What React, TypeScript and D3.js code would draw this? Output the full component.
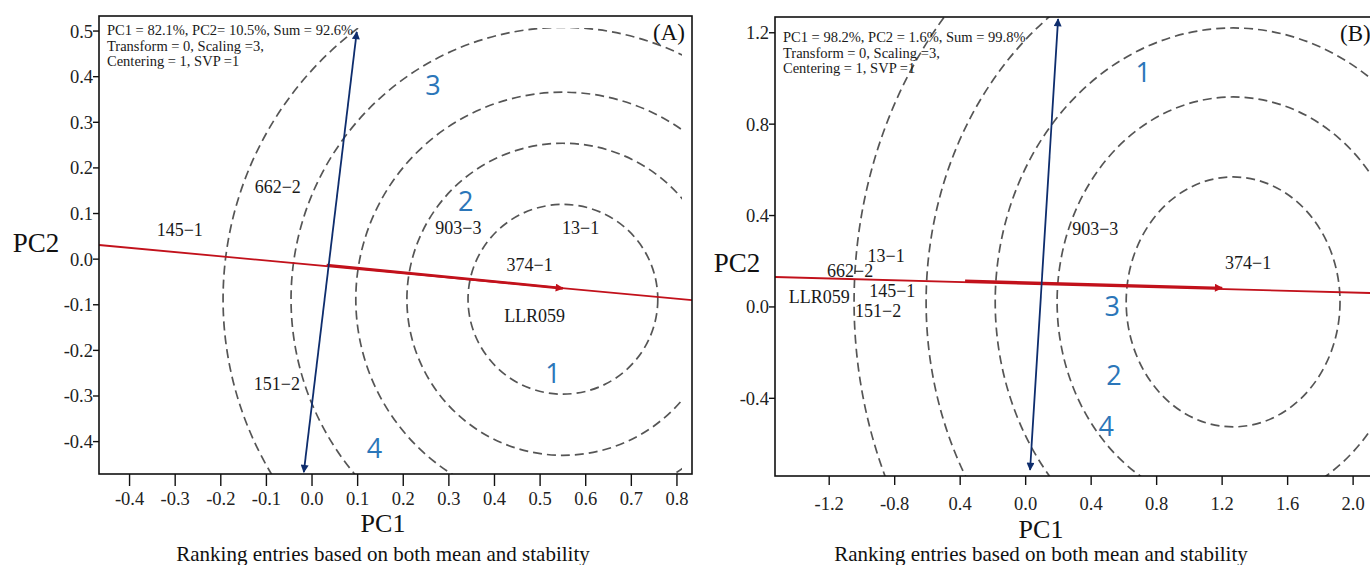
import * as d3 from "d3";
import React from "react";

// ---- panel A data ----
const ticksXA = [-0.4, -0.3, -0.2, -0.1, 0.0, 0.1, 0.2, 0.3, 0.4, 0.5, 0.6, 0.7, 0.8];
const tickLabelsXA = ["-0.4", "-0.3", "-0.2", "-0.1", "0.0", "0.1", "0.2", "0.3", "0.4", "0.5", "0.6", "0.7", "0.8"];
const ticksYA = [0.5, 0.4, 0.3, 0.2, 0.1, 0.0, -0.1, -0.2, -0.3, -0.4];
const tickLabelsYA = ["0.5", "0.4", "0.3", "0.2", "0.1", "0.0", "-0.1", "-0.2", "-0.3", "-0.4"];
const ringCenterA = [0.55, -0.088];
const ringRxA = [0.208, 0.342, 0.454, 0.596, 0.745];
const ringRyA = [0.208, 0.342, 0.454, 0.596, 0.745];
const entriesA = ["145−1", "662−2", "903−3", "13−1", "374−1", "LLR059", "151−2"];
const entryXA = [-0.29, -0.075, 0.321, 0.589, 0.477, 0.488, -0.077];
const entryYA = [0.064, 0.158, 0.068, 0.068, -0.013, -0.123, -0.272];
const ranksA = ["3", "2", "1", "4"];
const rankXA = [0.265, 0.337, 0.528, 0.137];
const rankYA = [0.382, 0.127, -0.25, -0.414];
const aecLineA = [[-0.467, 0.031], [0.833, -0.09]];
const aecArrowA = [[0.032, -0.013], [0.55, -0.064]];
const ordinateA = [[0.098, 0.498], [-0.018, -0.467]];
const infoA = ["PC1 = 82.1%, PC2= 10.5%, Sum = 92.6%", "Transform = 0, Scaling =3,", "Centering = 1, SVP =1"];

// ---- panel B data ----
const ticksXB = [-1.2, -0.8, -0.4, 0.0, 0.4, 0.8, 1.2, 1.6, 2.0];
const tickLabelsXB = ["-1.2", "-0.8", "0.4", "0.0", "0.4", "0.8", "1.2", "1.6", "2.0"];
const ticksYB = [1.2, 0.8, 0.4, 0.0, -0.4];
const tickLabelsYB = ["1.2", "0.8", "0.4", "0.0", "-0.4"];
const ringCenterB = [1.267, 0.022];
const ringRxB = [0.653, 1.075, 1.453, 1.875, 2.315];
const ringRyB = [0.547, 0.897, 1.199, 1.558, 1.926];
const entriesB = ["903−3", "374−1", "13−1", "662−2", "145−1", "LLR059", "151−2"];
const entryXB = [0.425, 1.359, -0.852, -1.072, -0.815, -1.261, -0.901];
const entryYB = [0.341, 0.193, 0.223, 0.158, 0.07, 0.044, -0.018];
const ranksB = ["1", "3", "2", "4"];
const rankXB = [0.718, 0.528, 0.54, 0.492];
const rankYB = [1.028, 0.004, -0.298, -0.521];
const aecLineB = [[-1.531, 0.131], [2.152, 0.06]];
const aecArrowB = [[-0.37, 0.114], [1.2, 0.083]];
const ordinateB = [[0.198, 1.26], [0.027, -0.713]];
const infoB = ["PC1 = 98.2%, PC2 = 1.6%, Sum = 99.8%", "Transform = 0, Scaling =3,", "Centering = 1, SVP =1"];

const SERIF = "'Liberation Serif', 'Times New Roman', serif";
const RED = "#c2111b";
const NAVY = "#0e2d6d";
const RANK_BLUE = "#2b76b9";

type PanelProps = {
  id: string;
  letter: string;
  xDomain: number[];
  yDomain: number[];
  box: { left: number; right: number; top: number; bottom: number };
  ticksX: number[];
  tickLabelsX: string[];
  ticksY: number[];
  tickLabelsY: string[];
  xTickLen: number;
  xLabelY: number;
  ringCenter: number[];
  ringRx: number[];
  ringRy: number[];
  ringClipRight: number;
  ringClipTop: number;
  entries: string[];
  entryX: number[];
  entryY: number[];
  ranks: string[];
  rankX: number[];
  rankY: number[];
  aecLine: number[][];
  aecArrow: number[][];
  ordinate: number[][];
  info: string[];
  infoX: number;
  infoY: number;
  pc2Pos: number[];
  pc1Pos: number[];
  subY: number;
  letterX: number;
};

const Panel = (p: PanelProps) => {
  const x = d3.scaleLinear().domain(p.xDomain).range([p.box.left, p.box.right]);
  const y = d3.scaleLinear().domain(p.yDomain).range([p.box.bottom, p.box.top]);
  const line = d3.line<number[]>().x((d) => x(d[0])).y((d) => y(d[1]));
  const cx = x(p.ringCenter[0]);
  const cy = y(p.ringCenter[1]);

  return (
    <g>
      <defs>
        <clipPath id={`clip-${p.id}`}>
          <rect x={p.box.left} y={p.ringClipTop} width={p.ringClipRight - p.box.left} height={p.box.bottom - p.ringClipTop} />
        </clipPath>
        <marker id={`red-${p.id}`} viewBox="0 0 10 10" refX="9" refY="5" markerWidth="10" markerHeight="8" markerUnits="userSpaceOnUse" orient="auto">
          <path d="M0,0 L10,5 L0,10 z" fill={RED} />
        </marker>
        <marker id={`navy-${p.id}`} viewBox="0 0 10 10" refX="9" refY="5" markerWidth="11" markerHeight="8" markerUnits="userSpaceOnUse" orient="auto-start-reverse">
          <path d="M0,0 L10,5 L0,10 z" fill={NAVY} />
        </marker>
      </defs>

      {/* concentric rings */}
      <g clipPath={`url(#clip-${p.id})`}>
        {p.ringRx.map((r, i) => (
          <ellipse
            key={i}
            cx={cx}
            cy={cy}
            rx={x(p.ringCenter[0] + r) - cx}
            ry={cy - y(p.ringCenter[1] + p.ringRy[i])}
            fill="none"
            stroke="#555"
            strokeWidth={1.7}
            strokeDasharray="9 5"
          />
        ))}
      </g>

      {/* average environment axis */}
      <path d={line(p.aecLine) || ""} stroke={RED} strokeWidth={1.8} fill="none" />
      <path d={line(p.aecArrow) || ""} stroke={RED} strokeWidth={2.6} fill="none" markerEnd={`url(#red-${p.id})`} />

      {/* ordinate */}
      <path d={line(p.ordinate) || ""} stroke={NAVY} strokeWidth={1.8} fill="none" markerStart={`url(#navy-${p.id})`} markerEnd={`url(#navy-${p.id})`} />

      {/* frame */}
      <rect x={p.box.left} y={p.box.top} width={p.box.right - p.box.left} height={p.box.bottom - p.box.top} fill="none" stroke="#111" strokeWidth={1.6} />

      {/* y ticks */}
      {p.ticksY.map((t, i) => (
        <g key={t}>
          <line x1={p.box.left - 6} x2={p.box.left} y1={y(t)} y2={y(t)} stroke="#111" strokeWidth={1.4} />
          <text x={p.box.left - 6} y={y(t)} dy="0.35em" textAnchor="end" fontFamily={SERIF} fontSize={18.5} fill="#222">
            {p.tickLabelsY[i]}
          </text>
        </g>
      ))}

      {/* x ticks */}
      {p.ticksX.map((t, i) => (
        <g key={t}>
          <line x1={x(t)} x2={x(t)} y1={p.box.bottom} y2={p.box.bottom + p.xTickLen} stroke="#111" strokeWidth={1.4} />
          <text x={x(t)} y={p.xLabelY} textAnchor="middle" fontFamily={SERIF} fontSize={18.5} fill="#222">
            {p.tickLabelsX[i]}
          </text>
        </g>
      ))}

      {/* entries */}
      {p.entries.map((e, i) => (
        <text key={e} x={x(p.entryX[i])} y={y(p.entryY[i])} dy="0.35em" textAnchor="middle" fontFamily={SERIF} fontSize={18} fill="#1a1a1a">
          {e}
        </text>
      ))}

      {/* rank numbers */}
      {p.ranks.map((r, i) => (
        <text key={r} x={x(p.rankX[i])} y={y(p.rankY[i])} dy="0.36em" textAnchor="middle" fontFamily="'Open Sans', sans-serif" fontSize={27} fill={RANK_BLUE}>
          {r}
        </text>
      ))}

      {/* info text */}
      {p.info.map((s, i) => (
        <text key={s} x={p.infoX} y={p.infoY + i * 15.5} fontFamily={SERIF} fontSize={14.5} fill="#1a1a1a">
          {s}
        </text>
      ))}

      <text x={p.letterX} y={p.box.top + 24} fontFamily={SERIF} fontSize={23} fill="#111">
        {p.letter}
      </text>

      <text x={p.pc2Pos[0]} y={p.pc2Pos[1]} textAnchor="middle" fontFamily={SERIF} fontSize={27} fill="#111">
        PC2
      </text>
      <text x={p.pc1Pos[0]} y={p.pc1Pos[1]} textAnchor="middle" fontFamily={SERIF} fontSize={26} fill="#111">
        PC1
      </text>
      <text x={p.pc1Pos[0]} y={p.subY} textAnchor="middle" fontFamily={SERIF} fontSize={21} fill="#111">
        Ranking entries based on both mean and stability
      </text>
    </g>
  );
};

export default function App() {
  return (
    <div style={{ position: "absolute", left: 0, top: 0 }}>
      <svg width={1370} height={565} style={{ display: "block", background: "#fff" }}>
        <Panel
          id="a"
          letter="(A)"
          xDomain={[-0.467, 0.833]}
          yDomain={[-0.471, 0.533]}
          box={{ left: 99, right: 692, top: 16, bottom: 474 }}
          ticksX={ticksXA}
          tickLabelsX={tickLabelsXA}
          ticksY={ticksYA}
          tickLabelsY={tickLabelsYA}
          xTickLen={12}
          xLabelY={505}
          ringCenter={ringCenterA}
          ringRx={ringRxA}
          ringRy={ringRyA}
          ringClipRight={682}
          ringClipTop={28}
          entries={entriesA}
          entryX={entryXA}
          entryY={entryYA}
          ranks={ranksA}
          rankX={rankXA}
          rankY={rankYA}
          aecLine={aecLineA}
          aecArrow={aecArrowA}
          ordinate={ordinateA}
          info={infoA}
          infoX={107}
          infoY={35}
          pc2Pos={[36, 252]}
          pc1Pos={[383, 532]}
          subY={561}
          letterX={653}
        />
        <Panel
          id="b"
          letter="(B)"
          xDomain={[-1.531, 2.152]}
          yDomain={[-0.74, 1.269]}
          box={{ left: 775, right: 1378, top: 17, bottom: 476 }}
          ticksX={ticksXB}
          tickLabelsX={tickLabelsXB}
          ticksY={ticksYB}
          tickLabelsY={tickLabelsYB}
          xTickLen={9}
          xLabelY={510}
          ringCenter={ringCenterB}
          ringRx={ringRxB}
          ringRy={ringRyB}
          ringClipRight={1378}
          ringClipTop={17}
          entries={entriesB}
          entryX={entryXB}
          entryY={entryYB}
          ranks={ranksB}
          rankX={rankXB}
          rankY={rankYB}
          aecLine={aecLineB}
          aecArrow={aecArrowB}
          ordinate={ordinateB}
          info={infoB}
          infoX={783}
          infoY={42}
          pc2Pos={[737, 272]}
          pc1Pos={[1041, 538]}
          subY={561}
          letterX={1340}
        />
      </svg>
    </div>
  );
}
